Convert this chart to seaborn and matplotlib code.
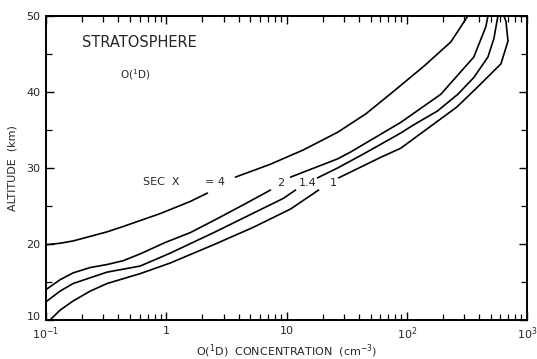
import numpy as np
import pandas as pd
import matplotlib
matplotlib.use("Agg")
import matplotlib.pyplot as plt
import matplotlib.transforms as mtrans
import seaborn as sns
from matplotlib.ticker import LogLocator, NullFormatter, MultipleLocator

# ---- data (concentration cm^-3, altitude km) ----
# each curve is broken in two pieces around its label
sec_values = ["4", "2", "1.4", "1"]

conc_4_low = [0.1, 0.131, 0.168, 0.322, 0.438, 0.89, 1.585, 2.2]
alt_4_low = [19.9, 20.1, 20.4, 21.6, 22.3, 24.0, 25.6, 26.7]
conc_4_up = [3.76, 7.36, 13.9, 26.6, 45.5, 77.9, 139, 233, 322]
alt_4_up = [28.8, 30.5, 32.4, 34.7, 37.1, 40.1, 43.4, 46.6, 50.0]

conc_2_low = [0.1, 0.131, 0.168, 0.233, 0.322, 0.438, 0.607, 0.981, 1.585, 2.56, 4.55, 7.36]
alt_2_low = [14.0, 15.3, 16.2, 16.9, 17.3, 17.8, 18.7, 20.2, 21.5, 23.2, 25.3, 27.1]
conc_2_up = [10.8, 26.6, 34.1, 89.1, 192, 361, 455, 473]
alt_2_up = [28.8, 31.2, 32.1, 36.0, 39.7, 44.6, 48.6, 50.0]

conc_14_low = [0.1, 0.131, 0.168, 0.322, 0.607, 1.08, 2.56, 9.4, 11.9]
alt_14_low = [12.4, 13.8, 14.8, 16.3, 17.1, 18.8, 21.6, 26.0, 27.1]
conc_14_up = [18.1, 26.6, 45.5, 89.1, 112, 180, 266, 361, 473, 530, 573]
alt_14_up = [28.7, 30.0, 32.0, 34.6, 35.6, 37.5, 39.7, 41.9, 44.6, 47.0, 50.0]

conc_1_low = [0.108, 0.131, 0.168, 0.233, 0.322, 0.607, 1.08, 2.56, 5.3, 10.8, 18.5]
alt_1_low = [10.0, 11.3, 12.5, 13.8, 14.8, 16.1, 17.5, 20.0, 22.2, 24.6, 27.1]
conc_1_up = [27.1, 60.7, 89.1, 168, 260, 391, 607, 695, 668, 643]
alt_1_up = [28.7, 31.4, 32.6, 35.8, 38.0, 40.7, 43.7, 46.7, 49.3, 50.0]

x_ticks = [0.1, 1, 10, 100, 1000]
x_tick_labels = ["10$^{-1}$", "1", "10", "10$^2$", "10$^3$"]
y_ticks = [10, 20, 30, 40, 50]

label_text = ["SEC  X", "= 4", "2", "1.4", "1"]
label_conc = [0.91, 2.56, 8.9, 14.9, 24.3]
label_alt = [28.2, 28.1, 28.0, 28.0, 28.0]

# ---- build long-form table ----
pieces = [
    ("4", "4a", conc_4_low, alt_4_low), ("4", "4b", conc_4_up, alt_4_up),
    ("2", "2a", conc_2_low, alt_2_low), ("2", "2b", conc_2_up, alt_2_up),
    ("1.4", "14a", conc_14_low, alt_14_low), ("1.4", "14b", conc_14_up, alt_14_up),
    ("1", "1a", conc_1_low, alt_1_low), ("1", "1b", conc_1_up, alt_1_up),
]
rows = []
for sec, seg, cs, als in pieces:
    for i, (c, a) in enumerate(zip(cs, als)):
        rows.append({"sec": sec, "seg": seg, "order": i, "conc": c, "alt": a})
df = pd.DataFrame(rows)

sns.set_style("ticks")
plt.rcParams["font.family"] = ["DejaVu Sans"]

fig = plt.figure(figsize=(5.37, 3.59), dpi=100)
ax = fig.add_axes([46 / 537, 39 / 359, 481 / 537, 304 / 359])

sns.lineplot(data=df, x="conc", y="alt", hue="sec", units="seg",
             estimator=None, sort=False, palette=["black"] * 4,
             hue_order=sec_values, linewidth=1.2, legend=False, ax=ax)

ax.set_xscale("log")
ax.set_xlim(0.1, 1000)
ax.set_ylim(10, 50)

ax.set_xticks(x_ticks)
ax.set_xticklabels(x_tick_labels)
ax.xaxis.set_minor_locator(LogLocator(base=10, subs=np.arange(2, 10)))
ax.xaxis.set_minor_formatter(NullFormatter())
ax.set_yticks(y_ticks)
ax.yaxis.set_minor_locator(MultipleLocator(5))

ax.tick_params(which="both", direction="in", top=True, right=True,
               labelsize=8, pad=4, color="black")
ax.tick_params(axis="x", which="both", pad=4)
ax.tick_params(which="major", length=6, width=1.0)
ax.tick_params(which="minor", length=4, width=0.9)
for s in ax.spines.values():
    s.set_linewidth(1.4)
    s.set_color("black")

# lift the lowest altitude label a little, as in the original
lowest = ax.get_yticklabels()[0]
lowest.set_transform(lowest.get_transform()
                     + mtrans.ScaledTranslation(0, 0.04, fig.dpi_scale_trans))

ax.set_xlabel("O($^1$D)  CONCENTRATION  (cm$^{-3}$)", fontsize=8, labelpad=0)
ax.set_ylabel("ALTITUDE  (km)", fontsize=8, labelpad=6)

ax.text(0.075, 0.914, "STRATOSPHERE", transform=ax.transAxes, fontsize=10.5,
        ha="left", va="center")
ax.text(0.154, 0.806, "O($^1$D)", transform=ax.transAxes, fontsize=7.5,
        ha="left", va="center")

for t, c, a in zip(label_text, label_conc, label_alt):
    ax.text(c, a, t, fontsize=8, ha="center", va="center")

fig.savefig("out.png", dpi=100, facecolor="white")
